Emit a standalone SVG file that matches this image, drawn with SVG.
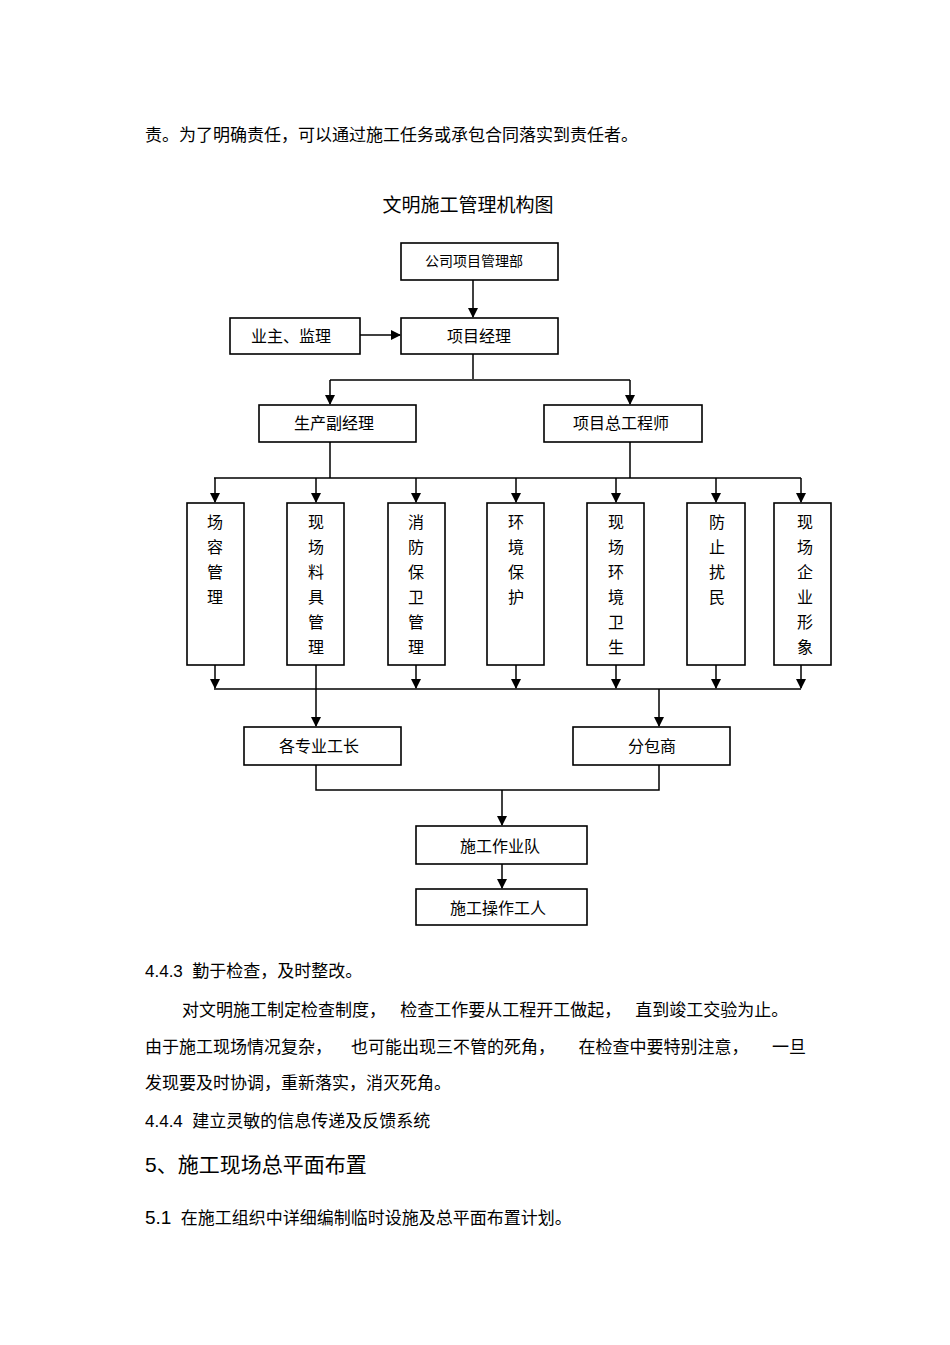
<svg xmlns="http://www.w3.org/2000/svg" width="950" height="1345" viewBox="0 0 950 1345">
<style>
text{font-family:"Liberation Sans","Noto Sans CJK SC",sans-serif;fill:#000;white-space:pre}
.b{fill:#fff;stroke:#000;stroke-width:1.6}
.l{fill:none;stroke:#000;stroke-width:1.5}
.t{font-size:16px;text-anchor:middle}
.p{font-size:17px}
</style>
<defs><marker id="a" markerWidth="10" markerHeight="10" refX="9" refY="5" orient="auto" markerUnits="userSpaceOnUse"><path d="M0,0L10,5L0,10z" fill="#000"/></marker></defs>
<rect width="950" height="1345" fill="#fff"/>
<text class="p" x="145" y="141">责。为了明确责任，可以通过施工任务或承包合同落实到责任者。</text>
<text x="468" y="212" style="font-size:19px;text-anchor:middle">文明施工管理机构图</text>
<g id="connectors">
<path class="l" d="M473,280V317" marker-end="url(#a)"/>
<path class="l" d="M360,335H400" marker-end="url(#a)"/>
<path class="l" d="M473,354V379"/>
<path class="l" d="M330,380H630M330,380V404" marker-end="url(#a)"/>
<path class="l" d="M630,380V404" marker-end="url(#a)"/>
<path class="l" d="M330,442V478M630,442V478M214,478H801"/>
<path class="l" d="M215,478V502" marker-end="url(#a)"/><path class="l" d="M316,478V502" marker-end="url(#a)"/><path class="l" d="M416,478V502" marker-end="url(#a)"/><path class="l" d="M516,478V502" marker-end="url(#a)"/><path class="l" d="M616,478V502" marker-end="url(#a)"/><path class="l" d="M716,478V502" marker-end="url(#a)"/><path class="l" d="M801,478V502" marker-end="url(#a)"/>
<path class="l" d="M215,665V688" marker-end="url(#a)"/><path class="l" d="M416,665V688" marker-end="url(#a)"/><path class="l" d="M516,665V688" marker-end="url(#a)"/><path class="l" d="M616,665V688" marker-end="url(#a)"/><path class="l" d="M716,665V688" marker-end="url(#a)"/><path class="l" d="M801,665V688" marker-end="url(#a)"/>
<path class="l" d="M214,689H801"/>
<path class="l" d="M316,665V726" marker-end="url(#a)"/>
<path class="l" d="M659,689V726" marker-end="url(#a)"/>
<path class="l" d="M316,765V790H659V765"/>
<path class="l" d="M502,790V825" marker-end="url(#a)"/>
<path class="l" d="M502,864V888" marker-end="url(#a)"/>
</g>
<g id="n1"><rect class="b" x="401" y="243" width="157" height="37"/><text class="t" x="474" y="266" style="font-size:14px">公司项目管理部</text></g>
<g id="n2"><rect class="b" x="230" y="318" width="130" height="36"/><text class="t" x="291" y="342">业主、监理</text></g>
<g id="n3"><rect class="b" x="401" y="318" width="157" height="36"/><text class="t" x="479" y="342">项目经理</text></g>
<g id="n4"><rect class="b" x="259" y="405" width="157" height="37"/><text class="t" x="334" y="429">生产副经理</text></g>
<g id="n5"><rect class="b" x="544" y="405" width="158" height="37"/><text class="t" x="621" y="429">项目总工程师</text></g>
<g id="v1"><rect class="b" x="187" y="503" width="57" height="162"/><text class="t" x="215" y="528">场</text><text class="t" x="215" y="553">容</text><text class="t" x="215" y="578">管</text><text class="t" x="215" y="603">理</text></g>
<g id="v2"><rect class="b" x="287" y="503" width="57" height="162"/><text class="t" x="316" y="528">现</text><text class="t" x="316" y="553">场</text><text class="t" x="316" y="578">料</text><text class="t" x="316" y="603">具</text><text class="t" x="316" y="628">管</text><text class="t" x="316" y="653">理</text></g>
<g id="v3"><rect class="b" x="388" y="503" width="57" height="162"/><text class="t" x="416" y="528">消</text><text class="t" x="416" y="553">防</text><text class="t" x="416" y="578">保</text><text class="t" x="416" y="603">卫</text><text class="t" x="416" y="628">管</text><text class="t" x="416" y="653">理</text></g>
<g id="v4"><rect class="b" x="487" y="503" width="57" height="162"/><text class="t" x="516" y="528">环</text><text class="t" x="516" y="553">境</text><text class="t" x="516" y="578">保</text><text class="t" x="516" y="603">护</text></g>
<g id="v5"><rect class="b" x="587" y="503" width="57" height="162"/><text class="t" x="616" y="528">现</text><text class="t" x="616" y="553">场</text><text class="t" x="616" y="578">环</text><text class="t" x="616" y="603">境</text><text class="t" x="616" y="628">卫</text><text class="t" x="616" y="653">生</text></g>
<g id="v6"><rect class="b" x="687" y="503" width="58" height="162"/><text class="t" x="717" y="528">防</text><text class="t" x="717" y="553">止</text><text class="t" x="717" y="578">扰</text><text class="t" x="717" y="603">民</text></g>
<g id="v7"><rect class="b" x="774" y="503" width="57" height="162"/><text class="t" x="805" y="528">现</text><text class="t" x="805" y="553">场</text><text class="t" x="805" y="578">企</text><text class="t" x="805" y="603">业</text><text class="t" x="805" y="628">形</text><text class="t" x="805" y="653">象</text></g>
<g id="n6"><rect class="b" x="244" y="727" width="157" height="38"/><text class="t" x="319" y="752">各专业工长</text></g>
<g id="n7"><rect class="b" x="573" y="727" width="157" height="38"/><text class="t" x="652" y="752">分包商</text></g>
<g id="n8"><rect class="b" x="416" y="826" width="171" height="38"/><text class="t" x="500" y="852">施工作业队</text></g>
<g id="n9"><rect class="b" x="416" y="889" width="171" height="36"/><text class="t" x="498" y="914">施工操作工人</text></g>
<text class="p" x="145" y="977">4.4.3  勤于检查，及时整改。</text>
<text class="p" x="182" y="1016">对文明施工制定检查制度，   检查工作要从工程开工做起，   直到竣工交验为止。</text>
<text class="p" x="145" y="1053">由于施工现场情况复杂，    也可能出现三不管的死角，     在检查中要特别注意，     一旦</text>
<text class="p" x="145" y="1089">发现要及时协调，重新落实，消灭死角。</text>
<text class="p" x="145" y="1127">4.4.4  建立灵敏的信息传递及反馈系统</text>
<text x="145" y="1172" style="font-size:21px">5、施工现场总平面布置</text>
<text x="145" y="1224" style="font-size:17px"><tspan style="font-size:19px">5.1</tspan>  在施工组织中详细编制临时设施及总平面布置计划。</text>
</svg>
